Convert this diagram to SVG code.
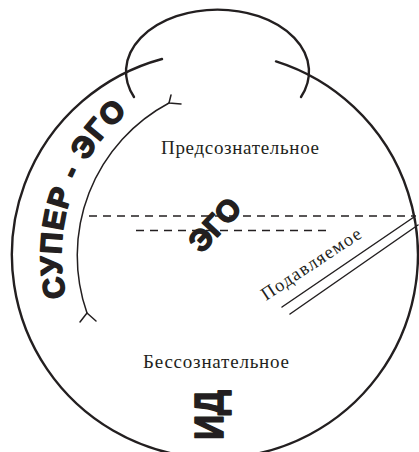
<svg xmlns="http://www.w3.org/2000/svg" width="419" height="452" viewBox="0 0 419 452">
  <style>
    .thick { fill: none; stroke: #231f20; stroke-width: 2.4; stroke-linecap: round; }
    .thin { fill: none; stroke: #231f20; stroke-width: 1.5; stroke-linecap: round; }
    .dash { fill: none; stroke: #231f20; stroke-width: 1.5; stroke-dasharray: 8 6; }
    .serif { font-family: "Liberation Serif", "Times New Roman", serif; fill: #231f20; }
    .heavy { font-family: "Liberation Sans", Arial, sans-serif; font-weight: bold; fill: #231f20; stroke: #231f20; stroke-width: 1.6; stroke-linejoin: round; }
  </style>
  <defs>
    <path id="superPath" d="M 66 297 A 188 188 0 0 1 160 90"/>
  </defs>
  <rect width="419" height="452" fill="#ffffff"/>

  <g id="psyche-boundary">
    <path class="thick" d="M 162 59 A 203 203 0 1 0 276 61.4"/>
  </g>

  <g id="perception-loop">
    <path class="thick" d="M 134 97 A 91.5 62 0 1 1 301 97"/>
  </g>

  <g id="superego">
    <path class="thin" d="M 169 103 A 173 173 0 0 0 87 313"/>
    <path class="thin" d="M 169 103 L 171 95 M 169 103 L 181 104"/>
    <path class="thin" d="M 87 313 L 80 322 M 87 313 L 96 321"/>
    <text class="heavy" font-size="30" letter-spacing="1.5"><textPath href="#superPath">СУПЕР - ЭГО</textPath></text>
  </g>

  <g id="connectors">
    <line class="dash" x1="89" y1="216" x2="416" y2="216"/>
    <line class="dash" x1="136" y1="230.5" x2="326" y2="230.5"/>
    <line class="thin" x1="282" y1="307" x2="414" y2="217"/>
    <line class="thin" x1="290" y1="314" x2="418" y2="225"/>
  </g>

  <g id="preconscious">
    <text class="serif" x="161" y="154" font-size="19" textLength="158" lengthAdjust="spacing">Предсознательное</text>
  </g>

  <g id="ego">
    <text class="heavy" font-size="30" transform="translate(215 225) rotate(-47)" text-anchor="middle" dy="10">ЭГО</text>
  </g>

  <g id="repressed">
    <text class="serif" font-size="18.5" transform="translate(266 301) rotate(-33.5)" textLength="116" lengthAdjust="spacing">Подавляемое</text>
  </g>

  <g id="unconscious">
    <text class="serif" x="143" y="368" font-size="19" textLength="146" lengthAdjust="spacing">Бессознательное</text>
  </g>

  <g id="id">
    <text class="heavy" font-size="41" transform="translate(223 440) rotate(-90)" textLength="50" lengthAdjust="spacingAndGlyphs">ИД</text>
  </g>
</svg>
